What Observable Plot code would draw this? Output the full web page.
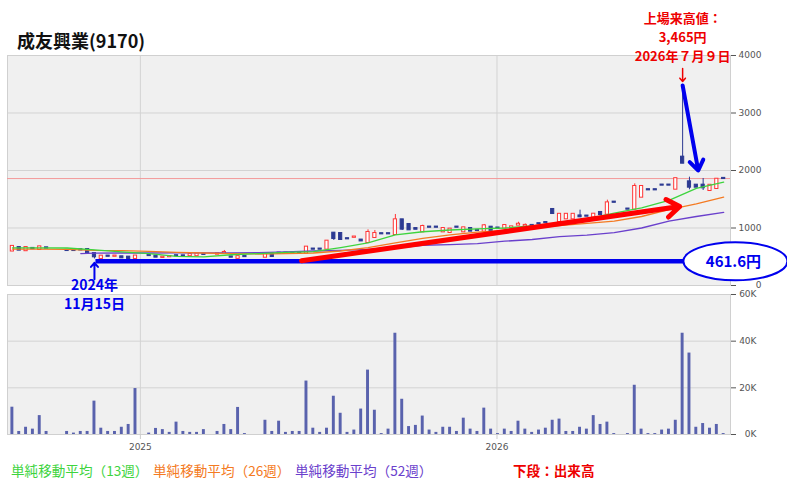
<!DOCTYPE html>
<html><head><meta charset="utf-8">
<script src="https://cdn.jsdelivr.net/npm/d3@7"></script>
<script src="https://cdn.jsdelivr.net/npm/@observablehq/plot@0.6"></script>
<style>
body{margin:0;background:#fff;}
#wrap{position:relative;width:787px;height:487px;overflow:hidden;font-family:"Noto Sans CJK JP",sans-serif;}
#title{position:absolute;left:17px;top:28px;font-size:18px;font-weight:bold;color:#111;line-height:24px;white-space:nowrap;}
#vol{position:absolute;left:0;top:290px;}
#price{position:absolute;left:0;top:0;}
.lg{position:absolute;top:462px;font-size:13.6px;line-height:16px;white-space:nowrap;}
</style></head><body>
<div id="wrap">
  <div id="vol"></div>
  <div id="price"></div>
  <div id="title">成友興業(9170)</div>
  <div id="legend"></div>
</div>
<script>
// ---- data (weekly candles, one per Friday) ----
const firstWeek = new Date(Date.UTC(2024, 7, 23));
const lastWeekStop = new Date(Date.UTC(2026, 7, 22));
const opens = [600,660,605,645,626,655,null,null,612,612,
622,626,556,468,512,508,499,493,470,null,
524,510,488,500,518,516,518,518,542,null,
545,560,498,472,506,null,null,492,551,564,
564,564,564,562,634,634,632,910,904,814,
838,790,748,835,901,901,887,1142,1061,990,
933,1016,1016,933,922,1016,933,991,959,945,
1014,1000,997,997,1050,1035,1045,1075,1095,1322,
1113,1159,1159,1210,1208,1190,1270,1240,1450,null,
1330,1327,1536,1666,1666,1747,1747,1675,2232,1803,
1745,1745,1652,1687,1863];
const highs = [690,665,665,650,680,660,null,null,615,615,
625,630,568,515,515,514,502,496,520,null,
527,512,495,506,522,518,542,552,546,null,
555,609,500,506,508,null,null,542,553,566,
566,566,568,678,636,636,775,922,910,816,
846,800,968,957,904,904,1235,1148,1065,995,
1049,1018,1018,993,982,1018,1005,995,962,1061,
1016,1004,1045,1022,1100,1070,1047,1078,1098,1330,
1240,1240,1240,1310,1210,1245,1285,1484,1452,null,
1332,1768,1725,1668,1668,1750,1750,1861,3465,1884,
1750,1861,1745,1850,1866];
const lows = [590,610,600,635,620,645,null,null,605,605,
615,565,461.6,465,505,505,478,468,466,null,
518,490,485,498,512,510,516,515,536,null,
542,555,488,468,500,null,null,490,502,558,
558,558,558,560,628,628,630,783,795,808,
836,770,745,830,895,895,885,957,965,975,
930,1010,1010,930,920,1010,930,943,953,943,
955,990,995,995,1045,1030,1040,1070,1090,1250,
1110,1155,1155,1180,1202,1188,1232,1238,1445,null,
1324,1325,1534,1660,1660,1742,1742,1672,2120,1664,
1705,1652,1650,1685,1856];
const closes = [680,615,660,640,672,650,null,null,608,608,
618,568,499,510,508,512,481,470,512,null,
520,493,492,504,515,512,538,548,540,null,
552,574,492,502,502,null,null,539,504,561,
561,561,561,667,631,631,771,817,800,811,
843,775,922,904,898,898,1142,980,968,978,
1026,1013,1013,991,980,1013,1003,945,956,1038,
957,993,1043,1020,1065,1045,1042,1072,1092,1252,
1238,1238,1238,1195,1205,1240,1235,1437,1447,null,
1327,1722,1722,1663,1663,1745,1745,1858,2127,1710,
1710,1699,1743,1848,1860];
const volumesK = [11.7,1.3,3.1,2.3,8.1,1.3,0,0,1.3,0.6,
1.3,1.3,14.3,2.7,1.3,1.3,3.1,4.3,19.7,0,
0.6,2.6,2.1,0.9,5.3,1.3,0.9,0.9,2.1,0,
1.3,4.3,2.1,11.6,0.4,0,0,6.1,1.3,5.7,
0.9,1.3,1.3,22.9,2.7,0.9,2.7,16.4,9.1,0.9,
1.9,10.9,27.6,10.4,0.4,2.3,43.4,15.1,3.4,3.9,
7.9,1.9,0.9,3.1,3.1,1.3,7,2.3,1.3,11.3,
2.3,0.4,2.3,1.3,5.7,2.3,0.9,1.9,2.7,6.1,
6.6,1.3,1.3,3.1,2.3,8.1,4.3,5.3,0.4,0,
0.4,21.1,2.3,0.4,0.4,1.9,2.3,6.1,43.4,34.9,
3.1,4.7,2.7,4.3,0.4];

const maIndex = [0,4,8,12,16,20,24,28,32,36,40,44,48,52,56,60,64,68,72,76,80,84,88,92,96,100,104];
const ma13 = [655,655,652,618,585,555,505,498,535,555,575,590,660,740,880,935,965,985,1000,1035,1080,1160,1260,1350,1480,1690,1797];
const ma26 = [632,632,630,612,605,595,575,565,555,548,555,565,600,660,740,820,880,930,960,1000,1040,1080,1120,1200,1320,1420,1536];
const ma52Index = [10,12,16,20,24,28,32,36,40,44,48,52,56,60,64,68,72,76,80,84,88,92,96,100,104];
const ma52 = [555,562,565,565,566,567,568,572,585,600,612,628,650,700,712,730,770,800,850,875,920,1000,1120,1200,1270];

const priceTicks = [0,1000,2000,3000,4000];
const volTicks = [0,20,40,60];
const yearTicks = [new Date(Date.UTC(2025,0,1)), new Date(Date.UTC(2026,0,1))];
const currentPrice = 1860;

// annotations
const lowDate = new Date(Date.UTC(2024,10,15));
const lowLine = [{x1: new Date(Date.UTC(2024,10,16)), x2: new Date(Date.UTC(2026,7,5)), y: 420}];
const lowArrow = [{x: lowDate, y1: 110, y2: 395}];
const trendArrow = [{x1: new Date(Date.UTC(2025,5,15)), y1: 430, x2: new Date(Date.UTC(2026,6,7)), y2: 1374}];
const peakDate = new Date(Date.UTC(2026,6,10));
const peakArrow = [{x1: peakDate, y1: 3480, x2: new Date(Date.UTC(2026,6,26)), y2: 2000}];
const peakMark = [{x: peakDate, y1: 3774, y2: 3548}];
const lowBadge = [{x: new Date(Date.UTC(2026,8,2)), y: 420, label: "461.6円"}];
const peakTexts = ["上場来高値：", "3,465円", "2026年７月９日"];
const lowTexts = ["2024年", "11月15日"];

// ---- build ----
const weeks = d3.utcFriday.range(firstWeek, lastWeekStop);
const rows = weeks.map((date, i) => ({date, o: opens[i], h: highs[i], l: lows[i], c: closes[i], v: volumesK[i]}));
const candles = rows.filter(d => d.o != null);
const up = candles.filter(d => d.c > d.o);
const down = candles.filter(d => d.c <= d.o);
const vols = rows.filter(d => d.v > 0);
const maLine = (idx, vals) => idx.map((k, j) => ({date: weeks[k], v: vals[j]}));

const RED = "#ff3535", NAVY = "#2c3a92", BLUE = "#0000ee", TXTRED = "#ee0000";
const GREEN = "#3ed43e", ORANGE = "#f47a22", PURPLE = "#6a40cc";
const xDomain = [new Date(Date.UTC(2024,7,18)), new Date(Date.UTC(2026,7,28))];
const bodyX1 = d => d3.utcHour.offset(d.date, -39);
const bodyX2 = d => d3.utcHour.offset(d.date, 39);

const ellipseSymbol = {draw(ctx) {
  const rx = 52, ry = 19, k = 0.5523;
  ctx.moveTo(rx, 0);
  ctx.bezierCurveTo(rx, ry*k, rx*k, ry, 0, ry);
  ctx.bezierCurveTo(-rx*k, ry, -rx, ry*k, -rx, 0);
  ctx.bezierCurveTo(-rx, -ry*k, -rx*k, -ry, 0, -ry);
  ctx.bezierCurveTo(rx*k, -ry, rx, -ry*k, rx, 0);
  ctx.closePath();
}};

const jp = "Noto Sans CJK JP";
const txt = (s, x, anchor, dy, color, size) => Plot.text([s], {x, frameAnchor: anchor, lineAnchor: "middle", dy, text: d => d, fill: color, fontSize: size, fontWeight: "bold", fontFamily: jp});

const price = Plot.plot({
  width: 787, height: 320, marginTop: 55, marginBottom: 35, marginLeft: 7, marginRight: 57,
  style: {background: "transparent", fontFamily: "DejaVu Sans", fontSize: "9px", overflow: "visible"},
  x: {type: "utc", domain: xDomain, axis: null},
  y: {domain: [0, 4000], axis: null},
  marks: [
    Plot.frame({fill: "#f0f0f0"}),
    Plot.ruleY([1000,2000,3000], {stroke: "#d3d3d3"}),
    Plot.ruleX(yearTicks, {stroke: "#d3d3d3"}),
    Plot.frame({stroke: "#d0d0d0"}),
    Plot.axisY({anchor: "right", label: null, ticks: priceTicks, tickFormat: d => String(d), tickSize: 5, tickPadding: 26, textAnchor: "end", color: "#555"}),
    Plot.ruleY([currentPrice], {stroke: "#f39a9a", strokeWidth: 1}),
    Plot.ruleX(up, {x: "date", y1: "l", y2: "h", stroke: RED}),
    Plot.ruleX(down, {x: "date", y1: "l", y2: "h", stroke: NAVY}),
    Plot.rect(up, {x1: bodyX1, x2: bodyX2, y1: "o", y2: "c", fill: "white", stroke: RED, insetTop: -0.5, insetBottom: -0.5}),
    Plot.rect(down, {x1: bodyX1, x2: bodyX2, y1: "o", y2: "c", fill: NAVY, stroke: NAVY, insetTop: -0.5, insetBottom: -0.5}),
    Plot.line(maLine(ma52Index, ma52), {x: "date", y: "v", stroke: PURPLE, strokeWidth: 1.3}),
    Plot.line(maLine(maIndex, ma26), {x: "date", y: "v", stroke: ORANGE, strokeWidth: 1.3}),
    Plot.line(maLine(maIndex, ma13), {x: "date", y: "v", stroke: GREEN, strokeWidth: 1.3}),
    // annotations
    Plot.link(lowLine, {x1: "x1", x2: "x2", y1: "y", y2: "y", stroke: BLUE, strokeWidth: 4.5}),
    Plot.arrow(trendArrow, {x1: "x1", y1: "y1", x2: "x2", y2: "y2", stroke: "#ff0000", strokeWidth: 5, headLength: 4.6, headAngle: 70}),
    Plot.arrow(lowArrow, {x1: "x", x2: "x", y1: "y1", y2: "y2", stroke: BLUE, strokeWidth: 2, headLength: 4.5, headAngle: 80}),
    Plot.arrow(peakArrow, {x1: "x1", y1: "y1", x2: "x2", y2: "y2", stroke: BLUE, strokeWidth: 4, headLength: 4.5, headAngle: 70}),
    Plot.arrow(peakMark, {x1: "x", x2: "x", y1: "y1", y2: "y2", stroke: TXTRED, strokeWidth: 1.5, headLength: 5, headAngle: 80}),
    Plot.dot(lowBadge, {x: "x", y: "y", symbol: ellipseSymbol, fill: "white", stroke: BLUE, strokeWidth: 2}),
    Plot.text(lowBadge, {x: d => d3.utcDay.offset(d.x, -2), y: "y", text: "label", fill: BLUE, fontSize: 15, fontWeight: "bold", fontFamily: jp, dy: 1}),
    txt(peakTexts[0], peakDate, "top", -37, TXTRED, 13),
    txt(peakTexts[1], peakDate, "top", -18, TXTRED, 13),
    txt(peakTexts[2], peakDate, "top", 1, TXTRED, 13),
    txt(lowTexts[0], lowDate, "bottom", 0, BLUE, 14),
    txt(lowTexts[1], lowDate, "bottom", 19, BLUE, 14)
  ]
});
document.getElementById("price").append(price);

const vol = Plot.plot({
  width: 787, height: 165, marginTop: 4, marginBottom: 21, marginLeft: 7, marginRight: 57,
  style: {background: "white", fontFamily: "DejaVu Sans", fontSize: "9px"},
  x: {type: "utc", domain: xDomain, axis: null},
  y: {domain: [0, 60], axis: null},
  marks: [
    Plot.frame({fill: "#f0f0f0"}),
    Plot.ruleY([20, 40], {stroke: "#d3d3d3"}),
    Plot.ruleX(yearTicks, {stroke: "#d3d3d3"}),
    Plot.frame({stroke: "#d0d0d0"}),
    Plot.axisY({anchor: "right", label: null, ticks: volTicks, tickFormat: d => d + "K", tickSize: 5, tickPadding: 21, textAnchor: "end", color: "#555"}),
    Plot.axisX({anchor: "bottom", label: null, ticks: yearTicks, tickFormat: d3.utcFormat("%Y"), tickSize: 5, tickPadding: 4, color: "#555", stroke: "#cccccc"}),
    Plot.rectY(vols, {x1: d => d3.utcHour.offset(d.date, -36), x2: d => d3.utcHour.offset(d.date, 36), y: "v", fill: "#5962ad"})
  ]
});
document.getElementById("vol").append(vol);

const legendItems = [
  {text: "単純移動平均（13週）", color: GREEN, left: 11, bold: false},
  {text: "単純移動平均（26週）", color: ORANGE, left: 153, bold: false},
  {text: "単純移動平均（52週）", color: PURPLE, left: 295, bold: false},
  {text: "下段：出来高", color: TXTRED, left: 513, bold: true}
];
const lg = document.getElementById("legend");
for (const it of legendItems) {
  const s = document.createElement("div");
  s.className = "lg";
  s.textContent = it.text;
  s.style.left = it.left + "px";
  s.style.color = it.color;
  if (it.bold) { s.style.fontWeight = "bold"; }
  lg.append(s);
}
</script>
</body></html>
